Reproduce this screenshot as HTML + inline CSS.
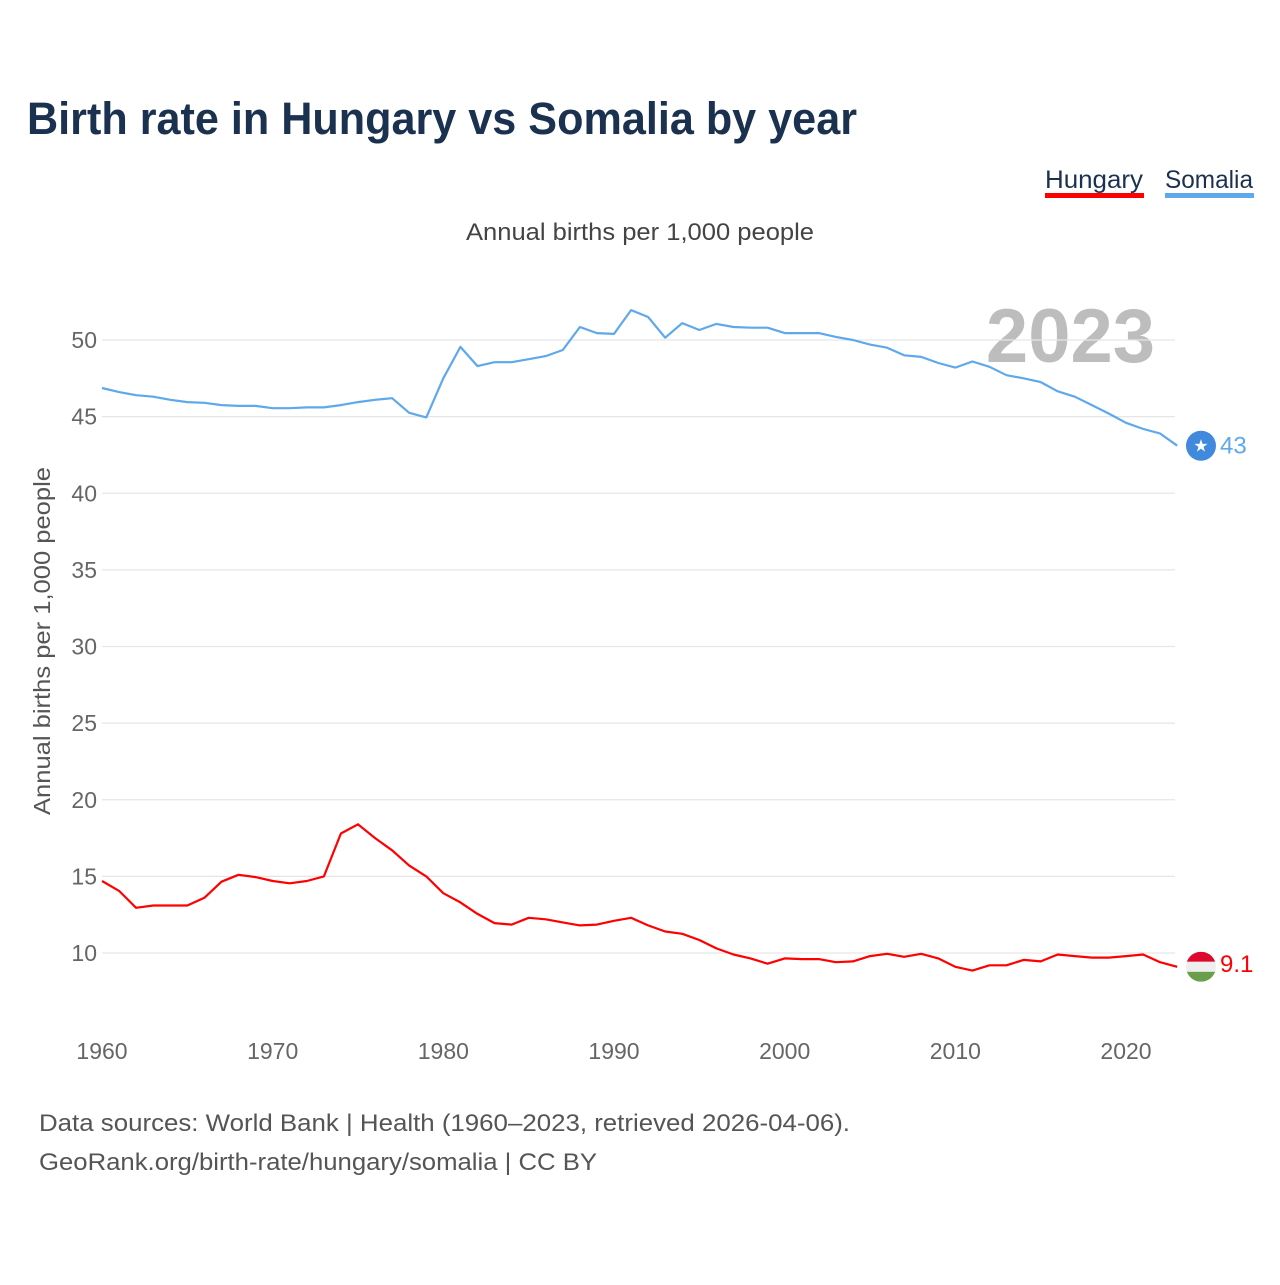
<!DOCTYPE html>
<html><head><meta charset="utf-8"><style>
body{margin:0;background:#fff;font-family:"Liberation Sans",sans-serif;}
svg text{font-family:"Liberation Sans",sans-serif;}
</style></head><body>
<svg id="chart" width="1280" height="1280" viewBox="0 0 1280 1280" xmlns="http://www.w3.org/2000/svg">
<rect width="1280" height="1280" fill="#fff"/>
<text x="27" y="134" font-size="45" font-weight="bold" fill="#1b3150" textLength="830" lengthAdjust="spacingAndGlyphs">Birth rate in Hungary vs Somalia by year</text>
<g>
<text x="1045" y="188" font-size="25" fill="#1b3150" textLength="98" lengthAdjust="spacingAndGlyphs">Hungary</text>
<rect x="1045" y="193" width="99" height="5" fill="#ff0000"/></g>
<g>
<text x="1165" y="188" font-size="25" fill="#1b3150" textLength="88" lengthAdjust="spacingAndGlyphs">Somalia</text>
<rect x="1165" y="193" width="89" height="5" fill="#5ea8ec"/></g>
<text x="466" y="240" font-size="24" fill="#444" textLength="348" lengthAdjust="spacingAndGlyphs">Annual births per 1,000 people</text>
<text transform="translate(50,815) rotate(-90)" font-size="23" fill="#555" textLength="348" lengthAdjust="spacingAndGlyphs">Annual births per 1,000 people</text>
<text x="1155" y="362" font-size="76" font-weight="bold" fill="#bdbdbd" text-anchor="end">2023</text>
<g id="grid"></g><g id="xt"></g>
<g id="lines"></g>
<text x="39" y="1131" font-size="24" fill="#555" textLength="811" lengthAdjust="spacingAndGlyphs">Data sources: World Bank | Health (1960–2023, retrieved 2026-04-06).</text>
<text x="39" y="1170" font-size="24" fill="#555" textLength="558" lengthAdjust="spacingAndGlyphs">GeoRank.org/birth-rate/hungary/somalia | CC BY</text>
</svg>
<script>
const years=[];for(let y=1960;y<=2023;y++)years.push(y);
const somalia=[46.87,46.6,46.4,46.3,46.1,45.95,45.9,45.75,45.7,45.7,45.55,45.55,45.6,45.6,45.75,45.95,46.1,46.2,45.25,44.95,47.5,49.55,48.3,48.55,48.55,48.75,48.95,49.35,50.85,50.45,50.4,51.95,51.5,50.15,51.1,50.65,51.05,50.85,50.8,50.8,50.45,50.45,50.45,50.2,50.0,49.7,49.5,49.0,48.9,48.5,48.2,48.6,48.25,47.7,47.5,47.25,46.65,46.3,45.75,45.2,44.6,44.2,43.9,43.1];
const hungary=[14.7,14.05,12.95,13.1,13.1,13.1,13.6,14.65,15.1,14.95,14.7,14.55,14.7,15.0,17.8,18.4,17.5,16.7,15.7,15.0,13.9,13.3,12.55,11.95,11.85,12.3,12.2,12.0,11.8,11.85,12.1,12.3,11.8,11.4,11.25,10.85,10.3,9.9,9.65,9.3,9.65,9.6,9.6,9.4,9.45,9.8,9.95,9.75,9.95,9.65,9.1,8.85,9.2,9.2,9.55,9.45,9.9,9.8,9.7,9.7,9.8,9.9,9.4,9.1];
const yTicks=[10,15,20,25,30,35,40,45,50];
const xTicks=[1960,1970,1980,1990,2000,2010,2020];
const NS="http://www.w3.org/2000/svg";
const X=y=>102+(y-1960)*(1024/60);
const Y=v=>340+(50-v)*(613/40);
function mk(t,a,p){const e=document.createElementNS(NS,t);for(const k in a)e.setAttribute(k,a[k]);p.appendChild(e);return e;}
const grid=document.getElementById('grid');
yTicks.forEach(v=>{
 const l=mk('line',{x1:102,x2:1175,y1:Y(v),y2:Y(v),stroke:'#e6e6e6','stroke-width':1.3},grid);
 
 
 const t=mk('text',{x:97,y:Y(v)+8,'font-size':23,fill:'#666','text-anchor':'end'},grid);t.textContent=v;
 
 
});
const xt=document.getElementById('xt');
xTicks.forEach(v=>{
 const t=mk('text',{x:X(v),y:1059,'font-size':23,fill:'#666','text-anchor':'middle'},xt);t.textContent=v;
 
 
});
const lines=document.getElementById('lines');
function series(vals,col,name){
 const d=vals.map((v,i)=>(i?'L':'M')+X(years[i]).toFixed(1)+' '+Y(v).toFixed(1)).join(' ');
 const p=mk('path',{d:d,fill:'none',stroke:col,'stroke-width':2.2,'stroke-linejoin':'round'},lines);
 
 
}
series(somalia,'#5ea8ec','somalia');
series(hungary,'#ff0000','hungary');
const ls=somalia[somalia.length-1],lh=hungary[hungary.length-1];
const sm=mk('g',{},lines);


mk('circle',{cx:1201,cy:Y(ls),r:15,fill:'#4189dd'},sm);
const st=mk('text',{x:1201,y:Y(ls)+6,'font-size':17,fill:'#fff','text-anchor':'middle'},sm);st.textContent='★';
const sl=mk('text',{x:1220,y:Y(ls)+8,'font-size':24,fill:'#5ea8ec'},lines);sl.textContent=Math.round(ls);


const hm=mk('g',{},lines);


const cy=Y(lh);
const cp=mk('clipPath',{id:'hc'},hm);mk('circle',{cx:1201,cy:cy,r:15},cp);
mk('rect',{x:1186,y:cy-15,width:30,height:10,fill:'#de0a2e','clip-path':'url(#hc)'},hm);
mk('rect',{x:1186,y:cy-5,width:30,height:10,fill:'#eeeeee','clip-path':'url(#hc)'},hm);
mk('rect',{x:1186,y:cy+5,width:30,height:10,fill:'#6a9e4a','clip-path':'url(#hc)'},hm);
const hl=mk('text',{x:1220,y:cy+5,'font-size':24,fill:'#ff0000'},lines);hl.textContent=lh.toFixed(1);


</script>
</body></html>
